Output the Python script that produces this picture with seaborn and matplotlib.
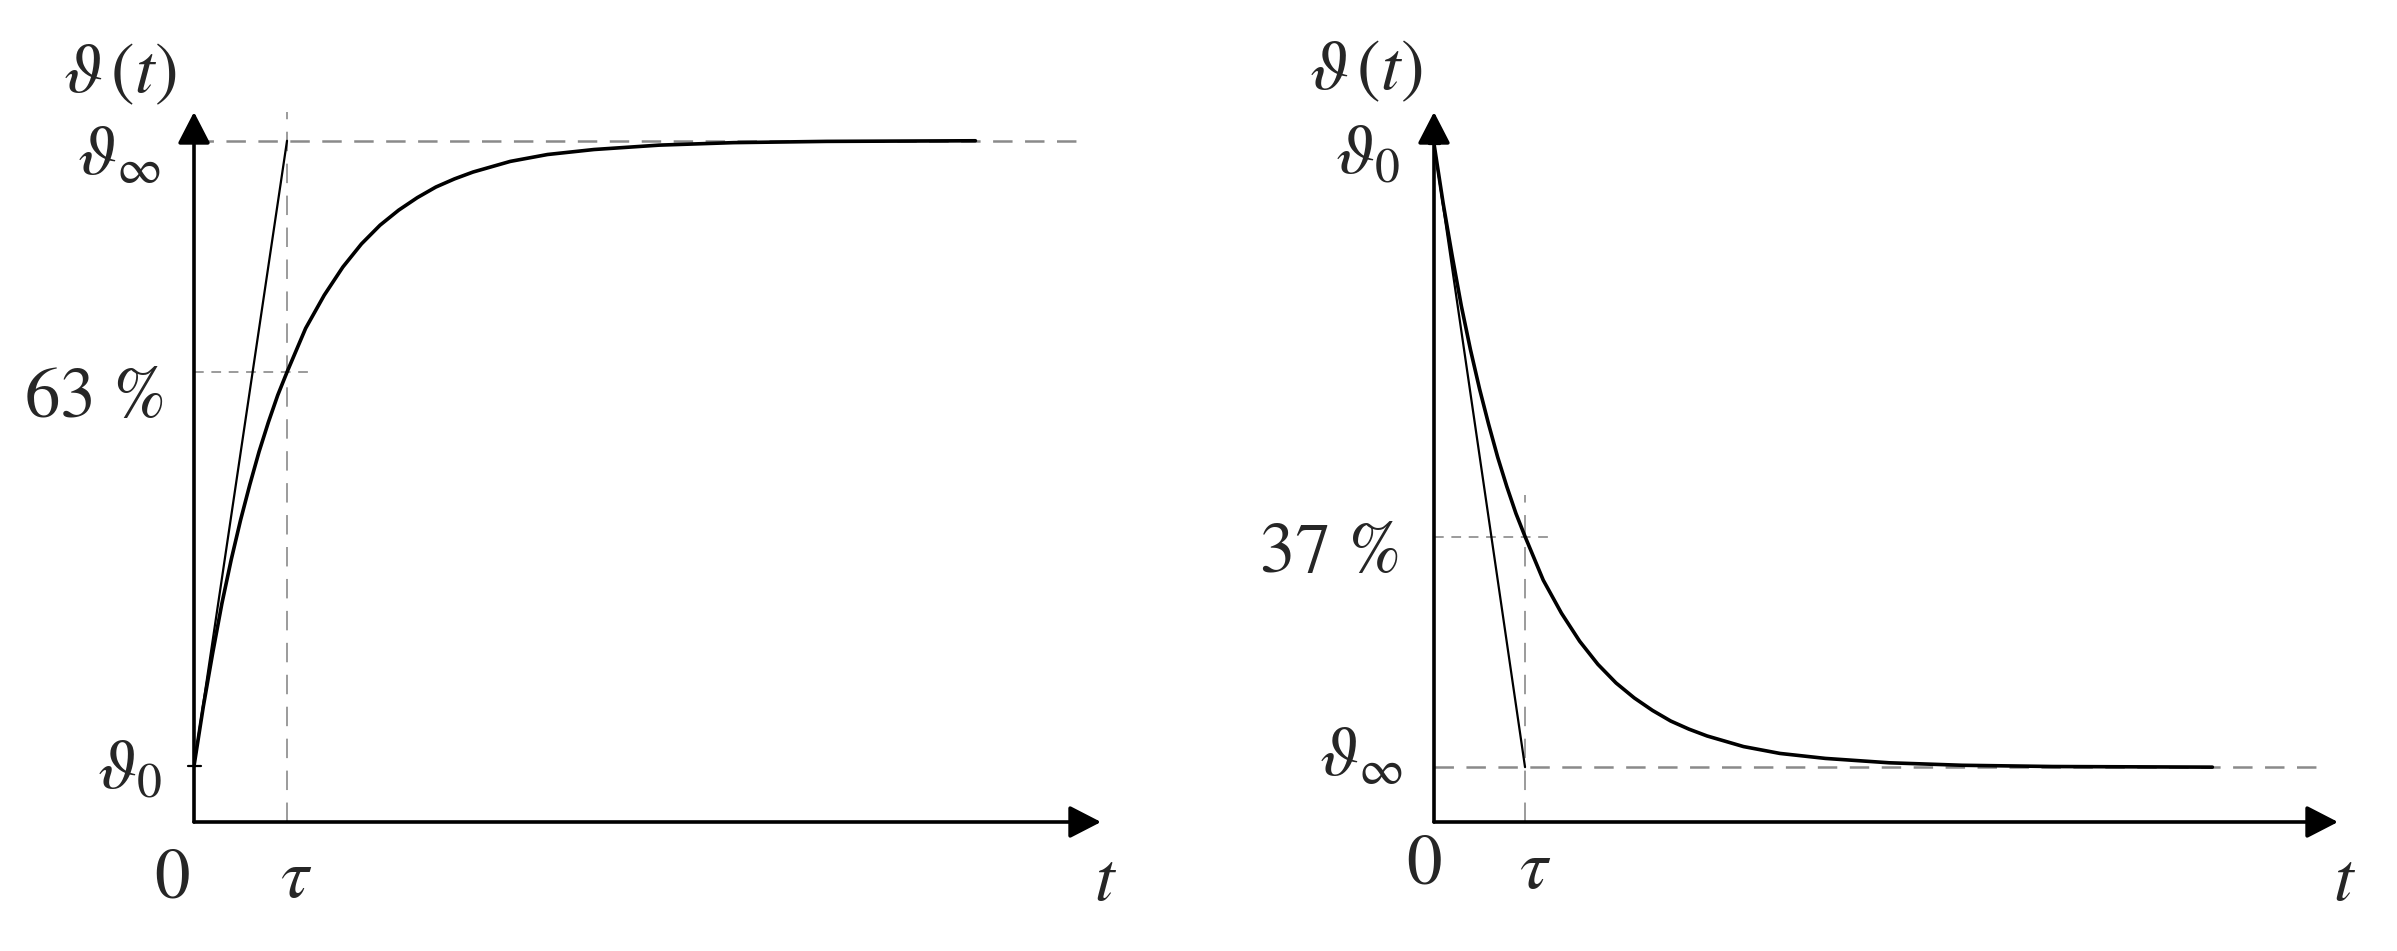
"""
plot.py - first-order step response: heating (left) and cooling (right)
with time constant tau, tangent at t=0 and the 63 % / 37 % marks.
"""

import matplotlib
matplotlib.use("Agg")
import matplotlib.pyplot as plt
import seaborn as sns

# ── Data (time in units of tau) ──────────────────────────────────────────────
T_RISE = [0, 0.1, 0.2, 0.3, 0.4, 0.5, 0.6, 0.7, 0.8, 0.9, 1.0, 1.2, 1.4, 1.6,
          1.8, 2.0, 2.2, 2.4, 2.6, 2.8, 3.0, 3.4, 3.8, 4.3, 5.0, 5.8, 6.8, 8.4]
V_RISE = [0, 0.095, 0.18, 0.26, 0.33, 0.393, 0.45, 0.503, 0.55, 0.593, 0.63,
          0.70, 0.753, 0.798, 0.835, 0.865, 0.889, 0.909, 0.926, 0.939, 0.95,
          0.967, 0.978, 0.986, 0.993, 0.997, 0.999, 1.0]

T_DECAY = [0, 0.1, 0.2, 0.3, 0.4, 0.5, 0.6, 0.7, 0.8, 0.9, 1.0, 1.2, 1.4, 1.6,
           1.8, 2.0, 2.2, 2.4, 2.6, 2.8, 3.0, 3.4, 3.8, 4.3, 5.0, 5.8, 6.8, 8.55]
V_DECAY = [1.0, 0.905, 0.82, 0.74, 0.67, 0.607, 0.55, 0.497, 0.45, 0.407, 0.37,
           0.30, 0.247, 0.202, 0.165, 0.135, 0.111, 0.091, 0.074, 0.061, 0.05,
           0.033, 0.022, 0.014, 0.007, 0.003, 0.001, 0.0]

RISE_MARK = 0.63     # 63 % level
DECAY_MARK = 0.37    # 37 % level

# ── Style ────────────────────────────────────────────────────────────────────
sns.set_style("white")
plt.rcParams["font.family"] = ["STIXGeneral", "DejaVu Serif"]
plt.rcParams["mathtext.fontset"] = "stix"
plt.rcParams["lines.scale_dashes"] = False

W, H = 2397, 951
FS = 51
GREY = "#8a8a8a"
LONG = (0, (14, 9))
SHORT = (0, (7, 5.5))
THETA_T = r"$\vartheta\,(t)$"


def add_axes_px(fig, left, right, bottom, top):
    return fig.add_axes([left / W, 1 - bottom / H, (right - left) / W, (bottom - top) / H])


def draw_arrows(ax, xmax, ymin, ymax):
    style = "-|>,head_length=0.97,head_width=0.5"
    kw = dict(arrowstyle=style, lw=2.6, color="black", mutation_scale=20,
              shrinkA=0, shrinkB=0)
    ax.annotate("", xy=(0, ymax), xytext=(0, ymin), arrowprops=kw, annotation_clip=False)
    ax.annotate("", xy=(xmax, ymin), xytext=(0, ymin), arrowprops=kw, annotation_clip=False)


def strip(ax, xlim, ylim):
    ax.set_xlim(*xlim)
    ax.set_ylim(*ylim)
    ax.set_axis_off()


fig = plt.figure(figsize=(W / 100, H / 100), dpi=100)

# ── Left: heating ────────────────────────────────────────────────────────────
ax1 = add_axes_px(fig, 194, 1101, 822, 112)
x1max, y1min, y1max = 9.75, -0.0896, 1.046
strip(ax1, (0, x1max), (y1min, y1max))

ax1.plot([0, 9.6], [1, 1], color=GREY, lw=1.8, ls=LONG)
ax1.plot([1, 1], [y1min, y1max], color=GREY, lw=1.2, ls=LONG)
ax1.plot([0, 1.3], [RISE_MARK, RISE_MARK], color=GREY, lw=1.2, ls=SHORT)
ax1.plot([0, 1], [0, 1], color="black", lw=1.6)
ax1.plot([-0.06, 0.07], [0, 0], color="black", lw=1.6, clip_on=False)
sns.lineplot(x=T_RISE, y=V_RISE, ax=ax1, color="black", lw=2.6, sort=False)
draw_arrows(ax1, x1max, y1min, y1max)

ax1.text(-0.8, 1.105, THETA_T, fontsize=FS, ha="center", va="center")
ax1.text(-0.36, 0.946, r"$\vartheta_\infty$", fontsize=FS, ha="right", va="baseline")
ax1.text(-0.3, 0.585, "63 %", fontsize=FS, ha="right", va="center")
ax1.text(-0.34, -0.035, r"$\vartheta_0$", fontsize=FS, ha="right", va="baseline")
ax1.text(-0.24, -0.21, "0", fontsize=FS, ha="center", va="baseline")
ax1.text(1.1, -0.21, r"$\tau$", fontsize=FS, ha="center", va="baseline")
ax1.text(9.8, -0.215, r"$t$", fontsize=FS, ha="center", va="baseline")

# ── Right: cooling ───────────────────────────────────────────────────────────
ax2 = add_axes_px(fig, 1434, 2338, 822, 112)
x2max, y2min, y2max = 9.93, -0.088, 1.051
strip(ax2, (0, x2max), (y2min, y2max))

ax2.plot([0, 9.78], [0, 0], color=GREY, lw=1.8, ls=LONG)
ax2.plot([1, 1], [y2min, 0.437], color=GREY, lw=1.2, ls=LONG)
ax2.plot([0, 1.27], [DECAY_MARK, DECAY_MARK], color=GREY, lw=1.2, ls=SHORT)
ax2.plot([0, 1], [1, 0], color="black", lw=1.6)
ax2.plot([-0.06, 0.07], [1, 1], color="black", lw=1.6, clip_on=False)
sns.lineplot(x=T_DECAY, y=V_DECAY, ax=ax2, color="black", lw=2.6, sort=False)
draw_arrows(ax2, x2max, y2min, y2max)

ax2.text(-0.75, 1.114, THETA_T, fontsize=FS, ha="center", va="center")
ax2.text(-0.37, 0.953, r"$\vartheta_0$", fontsize=FS, ha="right", va="baseline")
ax2.text(-0.36, 0.34, "37 %", fontsize=FS, ha="right", va="center")
ax2.text(-0.34, -0.013, r"$\vartheta_\infty$", fontsize=FS, ha="right", va="baseline")
ax2.text(-0.11, -0.186, "0", fontsize=FS, ha="center", va="baseline")
ax2.text(1.11, -0.194, r"$\tau$", fontsize=FS, ha="center", va="baseline")
ax2.text(10.0, -0.213, r"$t$", fontsize=FS, ha="center", va="baseline")

fig.savefig("out.png", dpi=100, facecolor="white")
